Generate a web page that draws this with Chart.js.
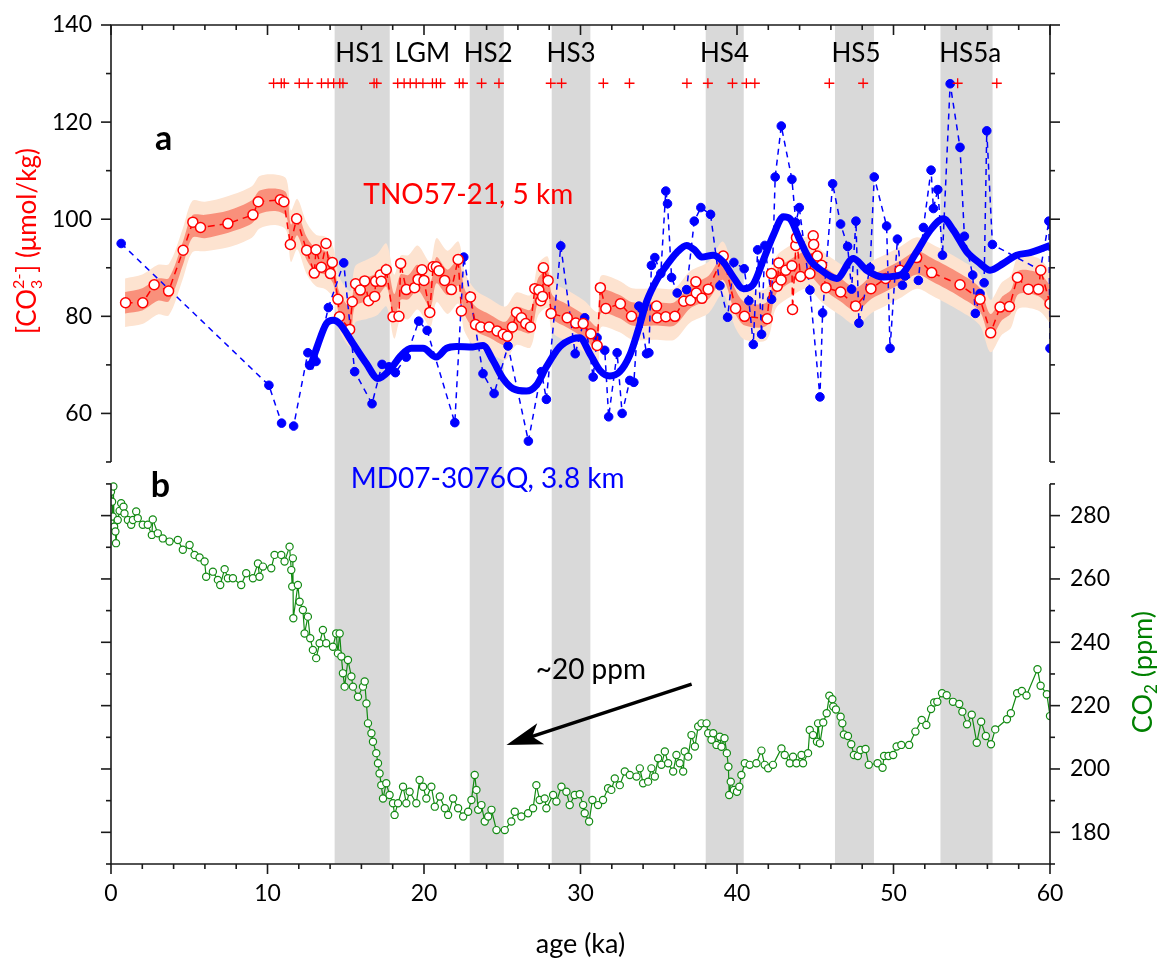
<!DOCTYPE html>
<html><head><meta charset="utf-8">
<script src="https://cdn.jsdelivr.net/npm/chart.js@4.4.0/dist/chart.umd.min.js"></script>
<style>html,body{margin:0;padding:0;background:#fff}#wrap{width:1162px;height:962px;position:relative}</style>
</head><body><div id="wrap"><canvas id="c" width="1162" height="962"></canvas></div>
<script>
// ---------- DATA ----------
const hsNames = ['HS1','HS2','HS3','HS4','HS5','HS5a'];
const hsStart = [14.29,22.92,28.16,38.0,46.26,53.0];
const hsEnd   = [17.81,25.1,30.63,40.43,48.75,56.33];
const periodLabels   = ['HS1','LGM','HS2','HS3','HS4','HS5','HS5a'];
const periodLabelAge = [15.9,19.9,24.1,29.4,39.2,47.6,54.9];

const datingAge = [10.39,10.88,11.07,12.03,12.6,13.45,13.87,14.23,14.62,14.82,16.81,16.98,18.32,18.73,19.12,19.5,19.93,20.54,20.79,21.06,22.26,22.49,23.68,24.79,28.1,28.79,31.46,33.13,36.8,38.14,39.71,40.6,41.14,45.9,48.06,54.1,56.6];
const datingLevel = 128;

const tnoAge = [0.93,2.03,2.76,3.68,4.61,5.23,5.72,7.47,9.07,9.41,10.82,11.05,11.46,11.86,12.5,12.99,13.1,13.44,13.74,14.02,14.14,14.5,14.6,15.25,15.42,15.63,15.93,16.21,16.46,16.85,16.91,17.21,17.27,17.59,18.02,18.4,18.51,18.87,19.4,19.62,19.87,20.0,20.37,20.58,20.79,20.96,21.32,21.75,22.18,22.39,22.97,23.29,23.63,24.16,24.67,25.06,25.33,25.65,25.91,26.23,26.5,26.8,27.08,27.34,27.46,27.58,27.63,27.93,28.12,29.15,29.7,30.17,30.66,31.06,31.27,31.62,32.55,33.26,34.86,34.9,35.45,36.03,36.6,37.03,37.37,37.4,37.76,38.16,39.12,39.91,40.48,41.93,42.2,42.57,42.67,42.82,43.12,43.51,43.55,43.76,43.8,44.06,44.66,44.87,44.9,45.13,45.4,45.69,46.62,47.58,48.56,49.5,50.42,51.48,52.44,54.25,55.53,56.21,56.81,57.41,57.92,58.62,59.26,59.41,60.0];
const tnoCO3 = [82.8,82.8,86.5,85.2,93.6,99.4,98.3,99.1,100.9,103.6,104.0,103.6,94.8,100.1,93.6,88.9,93.7,90.1,95.0,88.8,91.1,83.5,79.9,77.3,83.0,86.7,85.4,87.3,83.2,84.1,87.2,88.5,87.2,89.6,79.9,80.0,90.9,85.5,85.9,87.6,89.6,87.4,80.8,90.2,90.2,89.4,87.4,85.5,91.7,81.1,84.0,78.3,77.8,77.8,77.0,76.3,75.9,77.8,80.8,79.7,78.5,77.8,85.7,85.4,83.2,84.1,90.0,87.4,80.6,79.7,78.6,78.5,76.4,74.0,85.9,81.6,82.6,80.0,82.1,79.7,79.9,80.0,83.1,83.3,87.1,84.8,83.7,85.6,92.4,81.6,80.0,79.5,88.8,86.2,91.0,87.5,89.5,90.4,81.4,94.6,96.2,88.2,88.8,96.6,94.8,92.4,90.5,85.9,85.0,82.1,85.7,87.8,89.5,92.1,89.0,86.5,83.5,76.6,81.9,82.0,88.0,85.6,85.6,89.5,82.6];

const bandAge = [0.9,2,3,3.7,4.6,5.2,6,7.5,9,9.5,10.5,11.2,11.5,11.9,12.5,13.1,13.7,14.2,14.6,15.3,15.6,16.3,17,17.6,18.1,18.5,19,19.6,20.4,20.8,21.5,22.2,22.6,23.3,24.2,25.2,25.9,26.8,27.3,27.9,28.2,29.2,30.2,31.1,31.3,32.5,33.3,34.9,36,37,38.2,39.1,39.9,40.5,41.9,42.5,43.5,44.5,45.5,46.6,47.6,48.6,49.5,50.4,51.5,52.5,54.2,55.5,56.2,56.9,57.5,58,59.3,60];
const bandInnerHi = [85.0,85.8,87.8,87.9,95.4,100.8,100.9,101.8,103.9,105.9,106.3,105.4,98.9,101.3,96.4,93.9,93.4,91.3,84.9,81.9,86.9,87.9,88.9,90.9,84.6,88.6,88.5,90.6,87.1,92.2,89.6,91.7,85.6,82.0,80.4,78.9,81.9,81.4,87.9,89.4,84.4,82.4,80.4,77.9,85.4,84.4,82.9,82.9,82.9,86.4,88.4,92.5,85.5,82.9,82.9,89.4,91.9,93.4,90.4,87.9,85.9,88.4,89.9,91.4,93.4,91.9,88.9,85.9,80.5,83.9,85.4,89.4,88.9,86.4];
const bandInnerLo = [80.6,81.2,83.2,83.1,90.6,96.2,96.1,97.2,99.1,101.1,101.7,100.6,94.1,96.7,91.6,89.1,88.6,86.7,80.1,77.1,82.1,83.1,84.1,86.1,79.4,83.4,83.5,85.4,81.9,86.8,84.4,86.3,80.4,77.0,75.6,74.1,77.1,76.6,83.1,84.6,79.6,77.6,75.6,73.1,80.6,79.6,78.1,78.1,78.1,81.6,83.6,87.5,80.5,78.1,78.1,84.6,87.1,88.6,85.6,83.1,81.1,83.6,85.1,86.6,88.6,87.1,84.1,81.1,75.5,79.1,80.6,84.6,84.1,81.6];
const bandOuterHi = [87.8,88.6,90.6,90.8,98.2,103.8,103.6,104.8,106.8,108.9,109.2,108.3,101.8,104.2,99.3,96.8,96.4,94.3,88.0,85.2,90.3,91.6,92.8,95.0,88.6,92.5,92.6,94.6,91.2,96.1,93.5,95.4,89.2,85.4,83.6,82.0,84.9,84.4,90.8,92.3,87.3,85.3,83.3,80.9,88.3,87.3,85.8,85.8,85.8,89.3,91.3,95.4,88.4,85.8,85.8,92.3,94.8,96.3,93.3,90.8,88.8,91.3,92.8,94.3,96.3,94.8,91.8,88.8,83.4,86.9,88.4,92.4,91.9,89.4];
const bandOuterLo = [77.8,78.4,80.4,80.2,87.8,93.2,93.4,94.2,96.2,98.1,98.8,97.7,91.2,93.8,88.7,86.2,85.6,83.7,77.0,73.8,78.7,79.4,80.2,82.0,75.4,79.5,79.4,81.4,77.8,82.9,80.5,82.6,76.8,73.6,72.4,71.0,74.1,73.6,80.2,81.7,76.7,74.7,72.7,70.1,77.7,76.7,75.2,75.2,75.2,78.7,80.7,84.6,77.6,75.2,75.2,81.7,84.2,85.7,82.7,80.2,78.2,80.7,82.2,83.7,85.7,84.2,81.2,78.2,72.6,76.1,77.6,81.6,81.1,78.6];

const mdAge = [0.65,10.09,10.9,11.67,12.58,12.7,13.1,13.89,14.87,15.57,16.68,17.32,17.76,18.17,18.87,19.66,20.2,21.97,22.54,23.77,24.48,25.37,26.67,27.5,27.82,28.74,29.66,30.27,30.81,31.06,31.55,31.8,32.34,32.66,33.15,33.41,33.73,34.22,34.37,34.53,34.75,35.13,35.45,35.56,35.82,36.18,36.78,37.27,37.69,38.31,38.91,39.4,39.8,40.46,40.76,41.04,41.32,41.57,41.78,42.21,42.44,42.83,43.51,43.76,43.98,44.66,45.3,45.47,46.11,46.62,47.07,47.32,47.6,47.79,48.5,48.77,49.56,49.78,50.25,50.57,50.74,51.59,51.91,52.4,52.55,52.83,53.13,53.62,54.25,54.53,55.06,55.23,55.53,55.79,55.96,56.32,59.38,59.93,60.0];
const mdCO3 = [95.0,65.8,58.0,57.4,72.5,69.9,70.7,81.8,91.0,68.6,62.0,70.1,69.6,68.4,71.6,79.0,77.1,58.1,92.2,68.2,64.1,73.9,54.3,68.6,62.9,94.5,72.3,79.7,67.5,75.6,73.0,59.3,72.5,60.0,66.8,66.4,82.1,72.3,72.5,90.5,92.1,88.8,105.8,103.2,88.0,84.8,85.5,99.6,102.4,101.0,86.3,79.8,91.1,89.8,83.2,74.2,93.7,76.3,94.6,83.5,108.7,119.2,108.2,99.3,102.4,85.4,63.4,80.7,107.3,99.0,94.4,85.6,99.6,78.6,90.0,108.7,98.6,73.4,95.9,86.4,88.3,87.4,98.3,110.1,102.2,106.1,92.6,127.9,114.8,96.5,88.5,80.6,84.7,86.9,118.2,94.8,89.5,99.6,73.4];

const mdSmoothAge = [12.7,13.2,13.76,14.19,14.61,15.46,16.31,17.06,17.8,18.55,19.19,19.94,20.79,21.43,22.07,23.13,23.77,24.41,25.05,25.69,26.54,27.18,27.82,28.67,29.52,29.96,30.6,31.23,31.87,32.51,33.15,33.68,34.22,34.86,35.5,36.14,36.78,37.31,37.74,38.48,39.12,39.76,40.4,41.04,41.68,42.32,42.96,43.38,44.02,44.66,45.3,46.37,47.43,48.28,49.35,50.42,51.48,52.34,53.19,53.83,54.68,55.53,56.17,57.02,57.87,58.73,60.0];
const mdSmooth = [69.2,74.0,78.5,79.2,78.5,74.4,70.3,67.2,68.9,72.0,73.4,73.4,71.6,73.4,73.8,73.7,74.0,70.9,67.2,65.1,64.6,65.8,69.6,73.7,75.4,75.6,72.3,68.9,67.7,68.6,72.0,77.1,83.0,87.4,90.5,93.1,94.6,93.6,92.2,92.6,91.2,88.1,85.7,86.6,91.6,96.7,100.5,100.1,95.7,91.6,89.7,87.8,91.9,89.5,88.1,88.5,93.3,97.7,100.1,97.7,93.3,90.9,89.5,90.9,92.6,93.1,94.6];

const co2Age = [0.0,0.07,0.11,0.15,0.2,0.28,0.32,0.43,0.55,0.65,0.8,0.86,1.08,1.29,1.4,1.61,1.71,2.03,2.35,2.61,2.67,2.99,3.31,3.74,4.27,4.59,5.02,5.34,5.66,5.98,6.08,6.51,6.83,6.98,7.26,7.47,7.79,8.32,8.64,9.07,9.39,9.49,9.71,10.24,10.45,10.88,11.09,11.41,11.52,11.58,11.62,11.65,11.94,12.05,12.26,12.37,12.58,12.73,12.9,13.11,13.33,13.54,13.75,14.18,14.39,14.5,14.61,14.72,14.82,14.93,15.14,15.36,15.46,15.78,16.1,16.21,16.32,16.42,16.64,16.74,16.95,17.06,17.16,17.27,17.38,17.59,17.8,18.02,18.12,18.34,18.66,18.87,19.08,19.51,19.72,19.94,20.15,20.47,20.69,21.01,21.33,21.54,21.86,22.18,22.5,22.82,23.03,23.24,23.35,23.46,23.67,23.88,24.1,24.31,24.63,25.16,25.58,25.8,26.22,26.65,26.97,27.18,27.39,27.71,27.82,28.25,28.46,28.78,29.1,29.31,29.63,29.95,30.17,30.27,30.55,30.76,31.12,31.44,31.76,31.97,32.19,32.51,32.83,33.15,33.58,33.79,34.0,34.32,34.53,34.75,34.96,35.17,35.39,35.6,35.92,36.13,36.34,36.56,36.66,36.88,37.09,37.31,37.52,37.73,38.05,38.16,38.37,38.48,38.69,38.9,39.01,39.2,39.35,39.45,39.5,39.6,39.8,40.0,40.15,40.28,40.5,40.81,41.24,41.56,41.77,41.99,42.3,42.84,43.05,43.37,43.58,43.8,44.12,44.22,44.54,44.65,44.86,45.11,45.18,45.3,45.51,45.73,45.9,46.09,46.15,46.32,46.62,46.73,46.83,47.09,47.3,47.47,47.72,47.89,48.21,48.42,48.98,49.3,49.4,49.68,49.98,50.2,50.5,51.0,51.4,51.8,52.1,52.4,52.6,52.8,53.1,53.4,53.8,54.2,54.4,54.7,55.0,55.32,55.6,55.9,56.23,56.5,57.25,57.5,57.9,58.2,58.5,59.2,59.4,59.8,60.0];
const co2Ppm = [287.5,284.4,279.7,289.2,276.5,275.0,271.3,278.6,281.5,283.9,282.8,280.7,278.6,277.1,278.6,281.3,279.2,277.1,277.1,273.9,278.8,274.4,272.8,271.8,272.3,269.2,270.7,267.6,266.8,265.5,260.7,262.3,259.7,258.1,263.1,260.2,260.2,258.1,261.8,260.2,264.9,260.7,263.9,263.4,267.6,267.6,265.5,270.2,262.8,257.6,266.5,247.6,258.1,252.8,250.2,242.8,248.1,241.3,237.6,235.0,239.7,243.9,239.7,238.6,242.8,236.5,242.8,235.5,230.2,226.0,234.4,229.2,226.0,222.8,226.0,227.6,220.7,214.4,211.3,208.6,205.0,201.8,198.6,194.9,190.7,195.5,191.8,189.2,185.5,189.2,194.4,189.2,192.8,189.2,196.5,194.4,190.7,194.4,188.1,191.3,187.6,185.5,190.7,187.6,185.0,186.5,190.2,198.1,193.4,187.1,188.6,183.4,185.0,187.1,180.7,180.7,183.4,186.5,185.0,186.0,187.6,194.9,190.2,190.7,187.6,191.8,189.7,194.4,192.8,188.6,191.8,192.0,188.6,186.0,183.4,190.2,188.6,190.2,193.9,193.4,197.0,194.9,199.2,198.1,197.6,200.2,195.5,196.0,200.2,197.6,203.4,201.3,205.5,201.8,199.2,204.4,201.8,199.2,205.5,203.9,210.7,207.1,213.4,214.4,214.4,211.3,209.2,211.3,207.6,210.2,207.0,209.7,205.0,200.7,191.8,196.0,193.4,192.8,194.4,198.1,201.8,201.3,201.8,205.8,201.3,200.2,201.3,206.5,204.4,201.8,203.9,201.8,204.4,201.8,205.0,212.3,210.7,208.6,214.4,208.1,214.7,217.6,223.1,222.0,219.7,218.8,216.5,214.4,210.9,210.4,207.8,204.4,204.1,206.0,206.3,201.3,201.8,200.4,204.1,204.1,204.4,207.1,207.6,207.6,211.8,215.5,213.9,218.9,221.0,221.2,223.9,223.3,221.2,220.5,218.1,214.1,217.1,208.3,214.9,210.4,207.8,212.5,215.7,217.6,223.9,224.6,223.2,231.5,226.3,223.6,216.7];

// tick values
const ageTicks = [0,2,4,6,8,10,12,14,16,18,20,22,24,26,28,30,32,34,36,38,40,42,44,46,48,50,52,54,56,58,60];
const ageLabelTicks = [0,10,20,30,40,50,60];
const co3Ticks = [50,60,70,80,90,100,110,120,130,140];
const co3LabelTicks = [60,80,100,120,140];
const co2Ticks = [170,180,190,200,210,220,230,240,250,260,270,280,290];
const co2LabelTicks = [180,200,220,240,260,280];

// ---------- CHART ----------
const FONT = 'Lato, "Open Sans", "DejaVu Sans", sans-serif';
const pts = (xs, ys) => xs.map((x, i) => ({x, y: ys[i]}));

const annotations = {
  texts: [
    {t:'a', x:3.36, y:114.2, axis:'y', font:'bold 34px', color:'#000'},
    {t:'TNO57-21, 5 km', x:22.83, y:103.2, axis:'y', font:'28px', color:'#ff0000'},
    {t:'b', x:3.16, y:286.0, axis:'co2', font:'bold 34px', color:'#000'},
    {t:'MD07-3076Q, 3.8 km', x:24.07, y:288.7, axis:'co2', font:'28px', color:'#0000ff'},
    {t:'~20 ppm', x:30.66, y:228.4, axis:'co2', font:'28px', color:'#000'}
  ],
  arrow: {x0:37.1, y0:226.8, x1:25.27, y1:207.6, axis:'co2'},
  periodLabelLevel: 132.4
};

const panelPlugin = {
  id: 'panels',
  beforeDatasetsDraw(chart) {
    const {ctx, chartArea: a, scales: {x}} = chart;
    ctx.save();
    ctx.fillStyle = '#d9d9d9';
    for (let i = 0; i < hsStart.length; i++) {
      const x0 = x.getPixelForValue(hsStart[i]), x1 = x.getPixelForValue(hsEnd[i]);
      ctx.fillRect(x0, a.top, x1 - x0, a.bottom - a.top);
    }
    ctx.restore();
  },
  afterDraw(chart) {
    const {ctx, chartArea: a, scales: {x, y, co2}} = chart;
    const L = a.left, R = a.right;
    const tTop = y.getPixelForValue(140), tBot = y.getPixelForValue(50);
    const bTop = co2.getPixelForValue(290), bBot = co2.getPixelForValue(170);
    ctx.save();
    ctx.strokeStyle = '#1a1a1a'; ctx.lineWidth = 1.6; ctx.lineCap = 'butt';
    const line = (x0,y0,x1,y1) => { ctx.beginPath(); ctx.moveTo(x0,y0); ctx.lineTo(x1,y1); ctx.stroke(); };
    line(L-0.8, tTop, R+0.8, tTop); line(L, tTop, L, tBot); line(R, tTop, R, tBot);
    line(L, bTop, L, bBot); line(R, bTop, R, bBot); line(L-0.8, bBot, R+0.8, bBot);
    co3Ticks.forEach(v => { const py = y.getPixelForValue(v); const len = co3LabelTicks.includes(v) ? 10 : 5; line(L-len, py, L, py); line(R, py, R+len, py); });
    co2Ticks.forEach(v => { const py = co2.getPixelForValue(v); const len = co2LabelTicks.includes(v) ? 10 : 5; line(L-len, py, L, py); line(R, py, R+len, py); });
    ageTicks.forEach(v => { const px = x.getPixelForValue(v); const len = ageLabelTicks.includes(v) ? 10 : 5; line(px, tTop, px, tTop+len); line(px, bBot, px, bBot+len); });

    // period labels
    ctx.fillStyle = '#000'; ctx.font = `26px ${FONT}`; ctx.textAlign = 'center'; ctx.textBaseline = 'alphabetic';
    const ly = y.getPixelForValue(annotations.periodLabelLevel);
    periodLabels.forEach((s, i) => ctx.fillText(s, x.getPixelForValue(periodLabelAge[i]), ly));

    // text annotations
    annotations.texts.forEach(o => {
      const sc = o.axis === 'y' ? y : co2;
      ctx.font = `${o.font} ${FONT}`; ctx.fillStyle = o.color;
      ctx.fillText(o.t, x.getPixelForValue(o.x), sc.getPixelForValue(o.y));
    });

    // arrow
    const ar = annotations.arrow;
    const ax0 = x.getPixelForValue(ar.x0), ay0 = co2.getPixelForValue(ar.y0);
    const ax1 = x.getPixelForValue(ar.x1), ay1 = co2.getPixelForValue(ar.y1);
    const dx = ax0 - ax1, dy = ay0 - ay1, dl = Math.hypot(dx, dy);
    const ux = dx/dl, uy = dy/dl, nx = -uy, ny = ux;
    ctx.strokeStyle = '#000'; ctx.lineWidth = 3.5;
    line(ax0, ay0, ax1 + ux*24, ay1 + uy*24);
    ctx.fillStyle = '#000';
    ctx.beginPath();
    ctx.moveTo(ax1, ay1);
    ctx.lineTo(ax1 + ux*36 + nx*11, ay1 + uy*36 + ny*11);
    ctx.lineTo(ax1 + ux*27, ay1 + uy*27);
    ctx.lineTo(ax1 + ux*36 - nx*11, ay1 + uy*36 - ny*11);
    ctx.closePath(); ctx.fill();

    // left axis title: [CO3 2-] (µmol/kg)
    ctx.save();
    ctx.translate(L - 83, y.getPixelForValue(95.5)); ctx.rotate(-Math.PI/2);
    const big = `26px ${FONT}`, small = `16px ${FONT}`;
    ctx.font = big; const w1 = ctx.measureText('[CO').width, w3 = ctx.measureText('] (μmol/kg)').width;
    ctx.font = small; const w2 = Math.max(ctx.measureText('2-').width, ctx.measureText('3').width) + 1;
    let cx = -(w1 + w2 + w3)/2;
    ctx.fillStyle = '#ff0000'; ctx.textAlign = 'left'; ctx.textBaseline = 'middle';
    ctx.font = big; ctx.fillText('[CO', cx, 0); cx += w1;
    ctx.font = small; ctx.fillText('2-', cx, -9); ctx.fillText('3', cx, 9); cx += w2;
    ctx.font = big; ctx.fillText('] (μmol/kg)', cx, 0);
    ctx.restore();

    // right axis title: CO2 (ppm)
    ctx.save();
    ctx.translate(R + 93, co2.getPixelForValue(230.6)); ctx.rotate(-Math.PI/2);
    const big2 = `27px ${FONT}`, small2 = `17px ${FONT}`;
    ctx.font = big2; const v1 = ctx.measureText('CO').width, v3 = ctx.measureText(' (ppm)').width;
    ctx.font = small2; const v2 = ctx.measureText('2').width;
    let cx2 = -(v1 + v2 + v3)/2;
    ctx.fillStyle = '#008000'; ctx.textAlign = 'left'; ctx.textBaseline = 'middle';
    ctx.font = big2; ctx.fillText('CO', cx2, 0); cx2 += v1;
    ctx.font = small2; ctx.fillText('2', cx2, 9); cx2 += v2;
    ctx.font = big2; ctx.fillText(' (ppm)', cx2, 0);
    ctx.restore();

    ctx.restore();
  }
};

const TOP_MIN = -32.8, CO2_MAX = 434.9;

new Chart(document.getElementById('c'), {
  type: 'line',
  data: {
    datasets: [
      {data: pts(bandAge, bandOuterHi), yAxisID:'y', borderWidth:0, pointRadius:0, fill:'+1', backgroundColor:'#fde3d0', tension:0.3, order:10, clip:0},
      {data: pts(bandAge, bandOuterLo), yAxisID:'y', borderWidth:0, pointRadius:0, fill:false, tension:0.3, order:9.5, clip:0},
      {data: pts(bandAge, bandInnerHi), yAxisID:'y', borderWidth:0, pointRadius:0, fill:'+1', backgroundColor:'#f9907b', tension:0.3, order:9, clip:0},
      {data: pts(bandAge, bandInnerLo), yAxisID:'y', borderWidth:0, pointRadius:0, fill:false, tension:0.3, order:8.5, clip:0},
      {label:'MD07-3076Q', data: pts(mdAge, mdCO3), yAxisID:'y', borderColor:'#0000ff', borderWidth:1.5, borderDash:[6,5],
        pointRadius:4.3, pointBackgroundColor:'#0000ff', pointBorderColor:'#0000ff', pointBorderWidth:1, tension:0, fill:false, order:7, clip:0},
      {label:'TNO57-21', data: pts(tnoAge, tnoCO3), yAxisID:'y', borderColor:'#ff0000', borderWidth:1.5, borderDash:[7,5],
        pointRadius:5, pointBackgroundColor:'#ffffff', pointBorderColor:'#ff0000', pointBorderWidth:1.5, tension:0, fill:false, order:6, clip:0},
      {label:'MD07 smooth', data: pts(mdSmoothAge, mdSmooth), yAxisID:'y', borderColor:'#0000ff', borderWidth:7, pointRadius:0,
        tension:0.4, cubicInterpolationMode:'monotone', fill:false, order:5, clip:0},
      {label:'CO2', data: pts(co2Age, co2Ppm), yAxisID:'co2', borderColor:'#138a13', borderWidth:1.2, pointRadius:3.6,
        pointBackgroundColor:'#ffffff', pointBorderColor:'#138a13', pointBorderWidth:1.2, tension:0, fill:false, order:4, clip:0},
      {label:'dating', data: datingAge.map(a => ({x:a, y:datingLevel})), yAxisID:'y', showLine:false, pointStyle:'cross',
        pointRadius:5, pointBorderColor:'#ff0000', pointBorderWidth:1.3, order:3, clip:0}
    ]
  },
  options: {
    responsive:false, animation:false, devicePixelRatio:1,
    layout:{padding:{top:25, left:0, right:0, bottom:0}},
    plugins:{legend:{display:false}, tooltip:{enabled:false}, filler:{propagate:false}},
    scales:{
      x:{type:'linear', position:'bottom', min:0, max:60,
        afterBuildTicks:s => { s.ticks = ageLabelTicks.map(v => ({value:v})); },
        afterFit:s => { s.height = 98; s.paddingLeft = 0; s.paddingRight = 0; },
        grid:{display:false, drawTicks:false}, border:{display:false},
        ticks:{font:{family:FONT, size:23}, color:'#000', padding:16, maxRotation:0, autoSkip:false},
        title:{display:true, text:'age (ka)', font:{family:FONT, size:27}, color:'#000', padding:{top:0, bottom:2}}},
      y:{type:'linear', position:'left', min:TOP_MIN, max:140,
        afterBuildTicks:s => { s.ticks = co3LabelTicks.map(v => ({value:v})); },
        afterFit:s => { s.width = 111; s.paddingTop = 0; s.paddingBottom = 0; },
        grid:{display:false, drawTicks:false}, border:{display:false},
        ticks:{font:{family:FONT, size:23}, color:'#000', padding:19, autoSkip:false}},
      co2:{type:'linear', position:'right', min:170, max:CO2_MAX,
        afterBuildTicks:s => { s.ticks = co2LabelTicks.map(v => ({value:v})); },
        afterFit:s => { s.width = 112; s.paddingTop = 0; s.paddingBottom = 0; },
        grid:{display:false, drawTicks:false}, border:{display:false},
        ticks:{font:{family:FONT, size:23}, color:'#000', padding:20, autoSkip:false}}
    }
  },
  plugins:[panelPlugin]
});
</script></body></html>
